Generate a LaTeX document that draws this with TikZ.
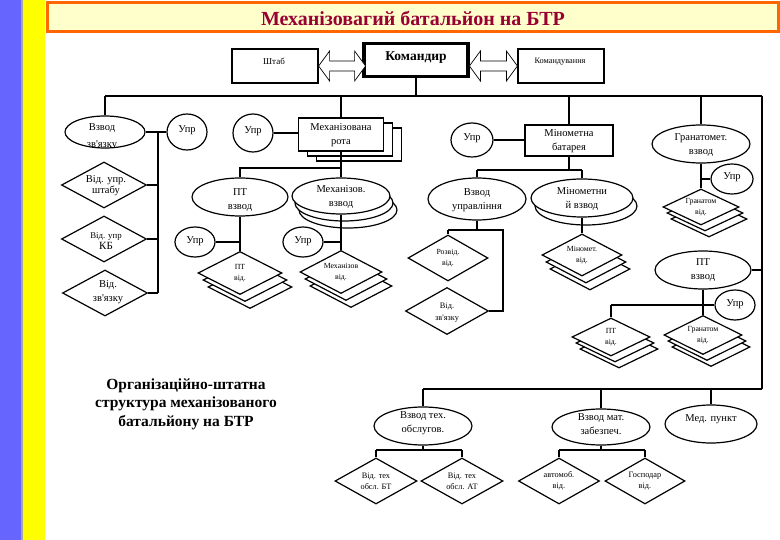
\documentclass[tikz,border=0pt]{standalone}
\usepackage{fontspec}
\setmainfont{Liberation Serif}[Ligatures=TeXOff]
\usetikzlibrary{shapes.geometric}
\definecolor{stripeblue}{RGB}{102,102,255}
\definecolor{stripeyellow}{RGB}{255,255,0}
\definecolor{titlefill}{RGB}{255,255,204}
\definecolor{titleedge}{RGB}{255,102,0}
\definecolor{titletext}{RGB}{153,0,51}
\begin{document}
\begin{tikzpicture}[x=1pt,y=-1pt,
  box/.style={draw,line width=1.2pt,fill=white,inner sep=0pt},
  oval/.style={ellipse,draw,line width=1.2pt,fill=white,inner sep=0pt},
  dia/.style={diamond,draw,line width=1.2pt,fill=white,inner sep=0pt},
  dsz/.style 2 args={minimum width=#1,minimum height=#2},
  conn/.style={line width=1.8pt},
  arr/.style={draw,line width=0.7pt,fill=white},
  lbl/.style={align=center,inner sep=0pt,font=\fontsize{10.5}{14}\selectfont},
  slbl/.style={align=center,inner sep=0pt,font=\fontsize{7.8}{11}\selectfont},
]
\useasboundingbox (0,0) rectangle (780,540);
\fill[white] (0,0) rectangle (780,540);
\fill[stripeblue] (0,0) rectangle (21,540);
\fill[gray!70] (21,0) rectangle (23,540);
\fill[stripeyellow] (23,0) rectangle (45,540);
\node[draw=titleedge,fill=titlefill,line width=3pt,inner sep=0pt,dsz={731pt}{29pt}] (title) at (413,17) {};
\node[font=\bfseries\fontsize{20}{22}\selectfont,text=titletext,inner sep=0pt] (titlet) at (413,18) {Механізовагий батальйон на БТР};

% top row
\node[box,dsz={86pt}{34pt}] (shtab) at (275,66) {};
\node[inner sep=0pt,font=\fontsize{9}{10}\selectfont] (shtabt) at (274,61) {Штаб};
\node[box,line width=2.5pt,dsz={105pt}{34pt}] (cmd) at (416,60) {};
\draw[line width=0.8pt] ([shift={(3,3)}]cmd.north west) rectangle ([shift={(-3,-3)}]cmd.south east);
\node[inner sep=0pt,font=\bfseries\fontsize{13.5}{15}\selectfont] (cmdt) at (416,58) {Командир};
\node[box,dsz={86pt}{34pt}] (kom) at (561,66) {};
\node[inner sep=0pt,font=\fontsize{8.3}{10}\selectfont] (komt) at (560,62) {Командування};
\draw[arr] (shtab.east) -- ++(11,-15) -- ++(0,10) -- ++(25,0) -- ++(0,-10) -- ++(11,15) -- ++(-11,15) -- ++(0,-10) -- ++(-25,0) -- ++(0,10) -- cycle;
\draw[arr] (kom.west) -- ++(-11,-15) -- ++(0,10) -- ++(-26,0) -- ++(0,-10) -- ++(-11,15) -- ++(11,15) -- ++(0,-10) -- ++(26,0) -- ++(0,10) -- cycle;

\coordinate (bL) at (105,96);
\coordinate (bR) at (762,96);
\draw[conn] (cmd.south) -- (cmd.south |- bL);
\draw[conn] (bL) -- (bR);

% left column
\node[oval,dsz={80pt}{32pt}] (vzv) at (105,132) {};
\begin{scope}
\clip (105,132) ellipse [x radius=39, y radius=15];
\node[lbl,font=\fontsize{10.5}{17}\selectfont] (vzvt) at (102,137) {Взвод\\зв'язку};
\end{scope}
\node[oval,dsz={40pt}{36pt}] (upr1) at (187,132) {};
\node[lbl] (upr1t) at (187,130) {Упр};
\coordinate (lv) at (158,132);
\draw[conn] (bL) -- (vzv.north);
\draw[conn] (vzv.east) -- (upr1.west);
\node[dia,dsz={85pt}{46pt}] (d1) at (104,185) {};
\node[lbl,font=\fontsize{10.5}{11}\selectfont] (d1t) at (106,186) {Від. упр.\\штабу};
\node[dia,dsz={85pt}{46pt}] (d2) at (104,239) {};
\node[lbl,font=\fontsize{8.8}{11}\selectfont] (d2t) at (106,241) {Від. упр\\{\fontsize{11}{11}\selectfont КБ}};
\node[dia,dsz={85pt}{46pt}] (d3) at (105,293) {};
\node[lbl,font=\fontsize{10.5}{14}\selectfont] (d3t) at (108,292) {Від.\\зв'язку};
\draw[conn] (lv) -- (lv |- d3.east);
\draw[conn] (d1.east) -- (lv |- d1.east);
\draw[conn] (d2.east) -- (lv |- d2.east);
\draw[conn] (d3.east) -- (lv |- d3.east);

% mech company
\node[oval,dsz={40pt}{38pt}] (upr2) at (253,133) {};
\node[lbl] (upr2t) at (253,131) {Упр};
\node[box,dsz={85pt}{33pt}] (rotac) at (359,144.5) {};
\node[box,dsz={85pt}{33pt}] (rotab) at (350,139.5) {};
\node[box,dsz={85pt}{33pt}] (rota) at (341,134.5) {};
\node[lbl] (rotat) at (341,135) {Механізована\\рота};
\draw[conn] (rota.north |- bL) -- (rota.north);
\draw[conn] (upr2.east) -- (upr2.east -| rota.west);
\coordinate (b2L) at (240,168);
\node[oval,dsz={96pt}{38pt}] (ptv) at (240,197) {};
\node[lbl] (ptvt) at (240,200) {ПТ\\взвод};
\node[oval,dsz={98pt}{36pt}] (mexvc) at (348,210) {};
\node[oval,dsz={98pt}{36pt}] (mexvb) at (344,203) {};
\node[oval,dsz={98pt}{36pt}] (mexv) at (341,196) {};
\node[lbl] (mexvt) at (341,197) {Механізов.\\взвод};
\draw[conn] (rota.south) -- (rota.south |- b2L) -- (b2L) -- (ptv.north);
\draw[conn] (rota.south |- b2L) -- (mexv.north);

\node[oval,dsz={40pt}{30pt}] (upr3) at (195,242) {};
\node[lbl] (upr3t) at (195,241) {Упр};
\node[dia,dsz={84pt}{43pt}] (ptvidc) at (250,287) {};
\node[dia,dsz={84pt}{43pt}] (ptvidb) at (245,280) {};
\node[dia,dsz={84pt}{43pt}] (ptvid) at (240,273) {};
\node[slbl] (ptvidt) at (240,273) {ПТ\\від.};
\draw[conn] (ptv.south) -- (ptvid.north);
\draw[conn] (upr3.east) -- (upr3.east -| ptv.south);

\node[oval,dsz={40pt}{30pt}] (upr4) at (303,242) {};
\node[lbl] (upr4t) at (303,241) {Упр};
\node[dia,dsz={82pt}{43pt}] (mexvidc) at (351,286) {};
\node[dia,dsz={82pt}{43pt}] (mexvidb) at (346,279) {};
\node[dia,dsz={82pt}{43pt}] (mexvid) at (341,272) {};
\node[slbl] (mexvidt) at (341,272) {Механізов\\від.};
\draw[conn] (mexv.south) -- (mexvid.north);
\draw[conn] (upr4.east) -- (upr4.east -| mexv.south);

% mortar battery
\node[oval,dsz={42pt}{34pt}] (upr5) at (472,140) {};
\node[lbl] (upr5t) at (472,138) {Упр};
\node[box,dsz={88pt}{31pt}] (mb) at (569,140.5) {};
\node[lbl] (mbt) at (569,141) {Мінометна\\батарея};
\draw[conn] (upr5.east) -- (upr5.east -| mb.west);
\draw[conn] (mb.north |- bL) -- (mb.north);
\coordinate (b3L) at (477,170);
\coordinate (b3R) at (582,170);
\draw[conn] (mb.south) -- (mb.south |- b3L);
\draw[conn] (b3L) -- (b3R);
\node[oval,dsz={98pt}{42pt}] (vu) at (477,199) {};
\node[lbl] (vut) at (477,200) {Взвод\\управління};
\node[oval,dsz={102pt}{38pt}] (mvb) at (586,206) {};
\node[oval,dsz={102pt}{38pt}] (mv) at (582,198) {};
\node[lbl] (mvt) at (582,199) {Мінометни\\й взвод};
\draw[conn] (b3L) -- (vu.north);
\draw[conn] (b3R) -- (mv.north);

\coordinate (b4L) at (448,230);
\coordinate (b4R) at (503,230);
\node[dia,dsz={80pt}{46pt}] (rozv) at (448,258) {};
\node[slbl] (rozvt) at (448,258) {Розвід.\\від.};
\node[dia,dsz={83pt}{47pt}] (vzk) at (447,311) {};
\node[slbl,font=\fontsize{8.3}{12}\selectfont] (vzkt) at (447,313) {Від.\\зв'язку};
\draw[conn] (vu.south) -- (vu.south |- b4L);
\draw[conn] (b4L) -- (b4R) -- (b4R |- vzk.east) -- (vzk.east);
\draw[conn] (b4L) -- (rozv.north);

\node[dia,dsz={80pt}{42pt}] (minvidc) at (590,269) {};
\node[dia,dsz={80pt}{42pt}] (minvidb) at (586,262) {};
\node[dia,dsz={80pt}{42pt}] (minvid) at (582,255) {};
\node[slbl] (minvidt) at (582,255) {Міномет.\\від.};
\draw[conn] (mv.south) -- (minvid.north);

% right column
\node[oval,dsz={98pt}{38pt}] (gv) at (701,144) {};
\node[lbl] (gvt) at (701,145) {Гранатомет.\\взвод};
\draw[conn] (gv.north |- bL) -- (gv.north);
\node[oval,dsz={42pt}{30pt}] (upr6) at (732,179) {};
\node[lbl] (upr6t) at (732,177) {Упр};
\node[dia,dsz={76pt}{36pt}] (grvid1c) at (709,219) {};
\node[dia,dsz={76pt}{36pt}] (grvid1b) at (705,213) {};
\node[dia,dsz={76pt}{36pt}] (grvid1) at (701,207) {};
\node[slbl] (grvid1t) at (701,207) {Гранатом\\від.};
\draw[conn] (gv.south) -- (grvid1.north);
\draw[conn] (upr6.west) -- (upr6.west -| gv.south);

\node[oval,dsz={96pt}{38pt}] (ptv2) at (703,270) {};
\node[lbl] (ptv2t) at (703,270) {ПТ\\взвод};
\coordinate (bRB) at (762,389);
\draw[conn] (bR) -- (bRB);
\draw[conn] (ptv2.east) -- (ptv2.east -| bR);
\node[oval,dsz={40pt}{30pt}] (upr7) at (735,305) {};
\node[lbl] (upr7t) at (735,304) {Упр};
\coordinate (b5L) at (611,305);
\node[dia,dsz={78pt}{38pt}] (ptvid2c) at (619,349) {};
\node[dia,dsz={78pt}{38pt}] (ptvid2b) at (615,343) {};
\node[dia,dsz={78pt}{38pt}] (ptvid2) at (611,337) {};
\node[slbl] (ptvid2t) at (611,337) {ПТ\\від.};
\node[dia,dsz={78pt}{39pt}] (grvid2c) at (711,347) {};
\node[dia,dsz={78pt}{39pt}] (grvid2b) at (707,341) {};
\node[dia,dsz={78pt}{39pt}] (grvid2) at (703,335) {};
\node[slbl] (grvid2t) at (703,335) {Гранатом\\від.};
\draw[conn] (ptv2.south) -- (grvid2.north);
\draw[conn] (b5L) -- (b5L -| upr7.west);
\draw[conn] (b5L) -- (ptvid2.north);

% bottom
\coordinate (b6L) at (423,389);
\draw[conn] (b6L) -- (bRB);
\node[oval,dsz={98pt}{38pt}] (vto) at (423,426) {};
\node[lbl] (vtot) at (423,423) {Взвод тех.\\обслугов.};
\node[oval,dsz={98pt}{36pt}] (vmz) at (601,427) {};
\node[lbl] (vmzt) at (601,424) {Взвод мат.\\забезпеч.};
\node[oval,dsz={92pt}{38pt}] (med) at (711,424) {};
\node[lbl] (medt) at (711,419) {Мед. пункт};
\draw[conn] (b6L) -- (vto.north);
\draw[conn] (vmz.north |- b6L) -- (vmz.north);
\draw[conn] (med.north |- b6L) -- (med.north);

\coordinate (b7L) at (376,450);
\coordinate (b7R) at (462,450);
\node[dia,dsz={82pt}{46pt}] (dbt) at (376,481) {};
\node[slbl,font=\fontsize{8.3}{11}\selectfont] (dbtt) at (376,481) {Від. тех\\обсл. БТ};
\node[dia,dsz={82pt}{46pt}] (dat) at (462,481) {};
\node[slbl,font=\fontsize{8.3}{11}\selectfont] (datt) at (462,481) {Від. тех\\обсл. АТ};
\draw[conn] (vto.south) -- (vto.south |- b7L);
\draw[conn] (b7L) -- (b7R);
\draw[conn] (b7L) -- (dbt.north);
\draw[conn] (b7R) -- (dat.north);

\coordinate (b8L) at (559,450);
\coordinate (b8R) at (645,450);
\node[dia,dsz={81pt}{46pt}] (avt) at (559,481) {};
\node[slbl,font=\fontsize{8.3}{11}\selectfont] (avtt) at (559,481) {автомоб.\\від.};
\node[dia,dsz={80pt}{46pt}] (gos) at (645,481) {};
\node[slbl,font=\fontsize{8.3}{11}\selectfont] (gost) at (645,481) {Господар\\від.};
\draw[conn] (vmz.south) -- (vmz.south |- b8L);
\draw[conn] (b8L) -- (b8R);
\draw[conn] (b8L) -- (avt.north);
\draw[conn] (b8R) -- (gos.north);

\node[align=center,inner sep=0pt,font=\bfseries\fontsize{15.5}{18.5}\selectfont] (org) at (186,404) {Організаційно-штатна\\структура механізованого\\батальйону на БТР};
\end{tikzpicture}
\end{document}
